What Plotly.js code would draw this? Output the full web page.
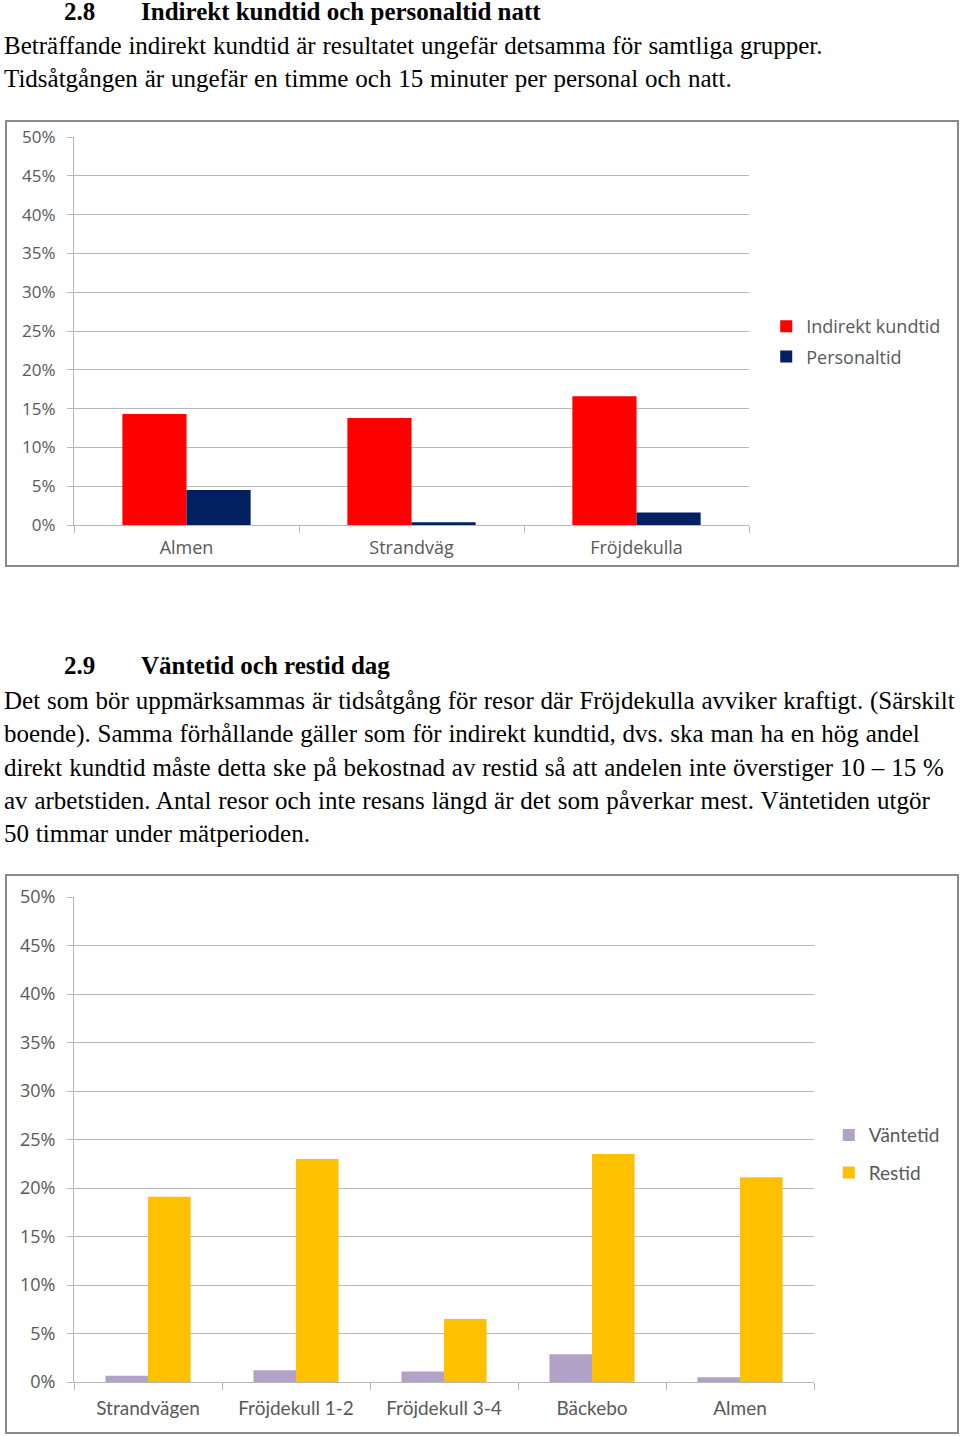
<!DOCTYPE html>
<html>
<head>
<meta charset="utf-8">
<script src="https://cdn.plot.ly/plotly-3.0.1.min.js"></script>
<style>
  body { margin: 0; background: #fff; width: 960px; height: 1436px; position: relative; overflow: hidden; }
  .txt { position: absolute; left: 4px; font-family: "Liberation Serif", "Times New Roman", serif; font-size: 25px; color: #000; white-space: nowrap; line-height: 30px; word-spacing: 0.6px; }
  .h { font-weight: bold; word-spacing: 0; }
  .chart { position: absolute; left: 5px; width: 950px; border: 2px solid #8a8a8a; }
</style>
</head>
<body>
<div class="txt h" style="top:-3px;left:64px">2.8<span style="position:absolute;left:77px">Indirekt kundtid och personaltid natt</span></div>
<div class="txt" style="top:31px">Beträffande indirekt kundtid är resultatet ungefär detsamma för samtliga grupper.</div>
<div class="txt" style="top:64px">Tidsåtgången är ungefär en timme och 15 minuter per personal och natt.</div>

<div id="chart1" class="chart" style="top:120px;height:443px"></div>

<div class="txt h" style="top:651px;left:64px">2.9<span style="position:absolute;left:77px">Väntetid och restid dag</span></div>
<div class="txt" style="top:686px">Det som bör uppmärksammas är tidsåtgång för resor där Fröjdekulla avviker kraftigt. (Särskilt</div>
<div class="txt" style="top:719px">boende). Samma förhållande gäller som för indirekt kundtid, dvs. ska man ha en hög andel</div>
<div class="txt" style="top:753px">direkt kundtid måste detta ske på bekostnad av restid så att andelen inte överstiger 10 – 15 %</div>
<div class="txt" style="top:786px">av arbetstiden. Antal resor och inte resans längd är det som påverkar mest. Väntetiden utgör</div>
<div class="txt" style="top:819px">50 timmar under mätperioden.</div>

<div id="chart2" class="chart" style="top:874px;height:556px"></div>

<script>
// chart 2.8 - indirekt kundtid / personaltid natt (%)
var groups1 = ["Almen", "Strandväg", "Fröjdekulla"];
var indirekt = [14.3, 13.8, 16.6];
var personal = [4.5, 0.35, 1.6];

// chart 2.9 - väntetid / restid dag (%)
var groups2 = ["Strandvägen", "Fröjdekull 1-2", "Fröjdekull 3-4", "Bäckebo", "Almen"];
var vantetid = [0.65, 1.2, 1.07, 2.85, 0.48];
var restid = [19.1, 23.0, 6.5, 23.5, 21.1];

var yTicks = [0, 5, 10, 15, 20, 25, 30, 35, 40, 45, 50];
var yLabels = yTicks.map(function (v) { return v + "%"; });

var gray = "#595959";
var gridGray = "#b8b8b8";

function yAxis(fontSize) {
    return {
        range: [0, 50], tickmode: "array", tickvals: yTicks, ticktext: yLabels,
        showgrid: true, gridcolor: gridGray, gridwidth: 1,
        showline: true, linecolor: gridGray, linewidth: 1,
        ticks: "outside", ticklen: 6, tickcolor: gridGray,
        zeroline: false, fixedrange: true,
        tickfont: {family: "Open Sans, DejaVu Sans, sans-serif", size: fontSize, color: gray},
        ticklabelstandoff: 8
    };
}

var layout1 = {
    width: 950, height: 443,
    margin: {l: 67, r: 207, t: 15, b: 40},
    paper_bgcolor: "#fff", plot_bgcolor: "#fff",
    barmode: "group", bargap: 0.43, bargroupgap: 0,
    showlegend: true,
    legend: {x: 1.024, y: 0.473, xanchor: "left", yanchor: "middle",
             font: {family: "Open Sans, DejaVu Sans, sans-serif", size: 18, color: gray},
             traceorder: "grouped", tracegroupgap: 4, itemwidth: 30},
    xaxis: {
        type: "category", showline: true, linecolor: gridGray, linewidth: 1,
        ticks: "outside", ticklen: 7, tickcolor: gridGray, tickson: "boundaries",
        tickfont: {family: "Open Sans, DejaVu Sans, sans-serif", size: 18, color: gray},
        ticklabelstandoff: 6,
        fixedrange: true
    },
    yaxis: yAxis(17)
};

var data1 = [
    {type: "bar", name: "Indirekt kundtid", x: groups1, y: indirekt, legendgroup: "a",
     marker: {color: "#ff0000"}, hoverinfo: "none"},
    {type: "bar", name: "Personaltid", x: groups1, y: personal, legendgroup: "b",
     marker: {color: "#002060"}, hoverinfo: "none"}
];

Plotly.newPlot("chart1", data1, layout1, {displayModeBar: false, staticPlot: true});

var layout2 = {
    width: 950, height: 556,
    margin: {l: 67, r: 143, t: 21, b: 50},
    paper_bgcolor: "#fff", plot_bgcolor: "#fff",
    barmode: "group", bargap: 0.425, bargroupgap: 0,
    showlegend: true,
    legend: {x: 1.02, y: 0.47, xanchor: "left", yanchor: "middle",
             font: {family: "Lato, Open Sans, sans-serif", size: 19, color: gray},
             traceorder: "grouped", tracegroupgap: 10, itemwidth: 30},
    xaxis: {
        type: "category", showline: true, linecolor: gridGray, linewidth: 1,
        ticks: "outside", ticklen: 7, tickcolor: gridGray, tickson: "boundaries",
        tickfont: {family: "Lato, Open Sans, sans-serif", size: 19, color: gray},
        ticklabelstandoff: 9,
        fixedrange: true
    },
    yaxis: yAxis(18)
};

var data2 = [
    {type: "bar", name: "Väntetid", x: groups2, y: vantetid, legendgroup: "a",
     marker: {color: "#b3a2c7"}, hoverinfo: "none"},
    {type: "bar", name: "Restid", x: groups2, y: restid, legendgroup: "b",
     marker: {color: "#ffc000"}, hoverinfo: "none"}
];

Plotly.newPlot("chart2", data2, layout2, {displayModeBar: false, staticPlot: true});
</script>
</body>
</html>
